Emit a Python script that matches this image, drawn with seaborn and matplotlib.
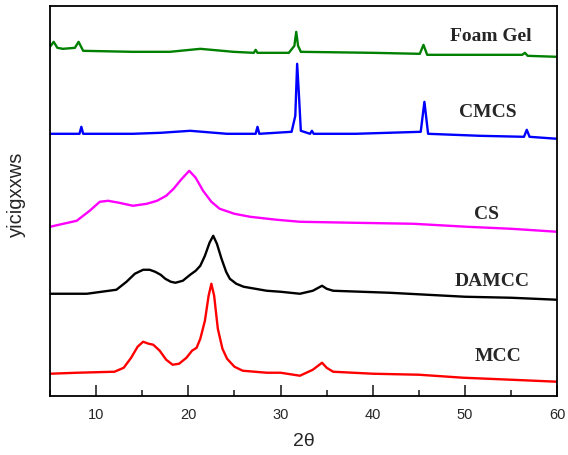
import matplotlib
matplotlib.use("Agg")
import matplotlib.pyplot as plt
from matplotlib.ticker import MultipleLocator
import pandas as pd
import seaborn as sns

# values (intensity in arbitrary units, already offset)
mcc_x = [5, 8, 12, 13, 13.8, 14.5, 15.1, 15.7, 16.2, 16.9, 17.6, 18.3, 19.0, 19.8,
         20.4, 20.9, 21.3, 21.8, 22.2, 22.5, 22.8, 23.2, 23.7, 24.2, 25.0, 25.9,
         28.5, 30, 32.1, 33.5, 34.5, 35.0, 35.7, 40, 45, 49.8, 55, 60]
mcc_y = [22, 23, 24, 28, 38, 49, 54, 52, 51, 45, 36, 31, 32, 38,
         45, 48, 57, 75, 100, 112, 100, 67, 47, 37, 29, 25,
         23, 23, 20, 26, 33, 28, 24, 22, 21, 18, 16, 14]

damcc_x = [5, 9, 12.2, 13.3, 14.2, 15.1, 15.8, 16.4, 17.0, 17.5, 18.1, 18.6, 19.4,
           20.2, 20.8, 21.3, 21.8, 22.3, 22.7, 23.1, 23.6, 24.1, 24.5, 25.2, 26,
           28.5, 30, 32.1, 33.5, 34.5, 35.0, 35.7, 41.8, 50, 55, 60]
damcc_y = [102, 102, 106, 114, 122, 126, 126, 124, 121, 117, 114, 113, 115,
           121, 125, 130, 140, 153, 160, 152, 137, 124, 117, 112, 109,
           105, 104, 102, 105, 110, 107, 105, 103, 99, 98, 96]

cs_x = [5, 7.9, 9.3, 10.4, 11.3, 12.5, 14, 15.5, 16.6, 17.6, 18.4, 19.2, 20.1,
        20.8, 21.6, 22.5, 23.4, 25, 26.7, 29.6, 32.1, 38, 44.4, 50.2, 55, 60]
cs_y = [169, 175, 185, 194, 195, 193, 190, 192, 195, 200, 207, 216, 225,
        218, 205, 194, 187, 182, 179, 176, 174, 173, 172, 169, 167, 164]

cmcs_x = [5, 8.2, 8.4, 8.6, 14, 17, 20.2, 24.2, 27.3, 27.5, 27.7, 31.2, 31.6,
          31.8, 32.0, 32.2, 33.2, 33.4, 33.6, 38.1, 45.2, 45.6, 46.0, 51.6,
          56.4, 56.7, 57.0, 60]
cmcs_y = [262, 262, 269, 262, 262, 263, 265, 262, 262, 269, 262, 264, 280,
          332, 300, 265, 262, 265, 262, 262, 264, 294, 262, 260,
          259, 266, 259, 257]

foam_x = [5, 5.4, 5.8, 6.4, 7.7, 8.1, 8.6, 14, 18, 21.3, 24.9, 27.1, 27.3, 27.5,
          30.9, 31.5, 31.7, 31.9, 32.2, 40, 45.1, 45.5, 45.9, 52, 56.2, 56.5,
          56.8, 60]
foam_y = [349, 354, 348, 347, 348, 354, 345, 344, 344, 347, 344, 343, 346, 343,
          343, 350, 364, 350, 344, 343, 342, 351, 341, 341, 341, 343,
          340, 339]

names = ["MCC", "DAMCC", "CS", "CMCS", "Foam Gel"]
colors = ["#ff0000", "#000000", "#ff00ff", "#0000ff", "#008000"]
label_x = [53.6, 52.9, 52.3, 52.5, 52.8]
label_y = [40, 115, 182, 284, 360]

frames = []
for name, xs, ys in zip(names, [mcc_x, damcc_x, cs_x, cmcs_x, foam_x],
                        [mcc_y, damcc_y, cs_y, cmcs_y, foam_y]):
    frames.append(pd.DataFrame({"x": xs, "y": ys, "sample": name}))
df = pd.concat(frames, ignore_index=True)

sns.set_style("ticks")
plt.rcParams["font.family"] = ["Liberation Sans", "DejaVu Sans"]

fig, ax = plt.subplots(figsize=(5.68, 4.56), dpi=100)
fig.subplots_adjust(left=0.088, right=0.981, top=0.985, bottom=0.13)

sns.lineplot(data=df, x="x", y="y", hue="sample", palette=dict(zip(names, colors)),
             estimator=None, sort=False, linewidth=1.7, legend=False, ax=ax)

for name, c, lx, ly in zip(names, colors, label_x, label_y):
    ax.text(lx, ly, name, ha="center", va="center", fontsize=14,
            fontweight="bold", family=["Liberation Serif", "DejaVu Serif"])

ax.set_xlim(5, 60)
ax.set_ylim(0, 390)
ax.set_yticks([])
ax.xaxis.set_major_locator(MultipleLocator(10))
ax.xaxis.set_minor_locator(MultipleLocator(5))
ax.tick_params(axis="x", which="major", direction="in", length=8, width=1.2,
               labelsize=10.5, pad=8)
ax.tick_params(axis="x", which="minor", direction="in", length=4, width=1.2)
for s in ax.spines.values():
    s.set_linewidth(1.3)
    s.set_color("black")

ax.set_xlabel("2θ", fontsize=14, labelpad=8)
ax.set_ylabel("yicigxxws", fontsize=14.5)
ax.yaxis.set_label_coords(-0.048, 0.52)

fig.savefig("out.png", dpi=100)
